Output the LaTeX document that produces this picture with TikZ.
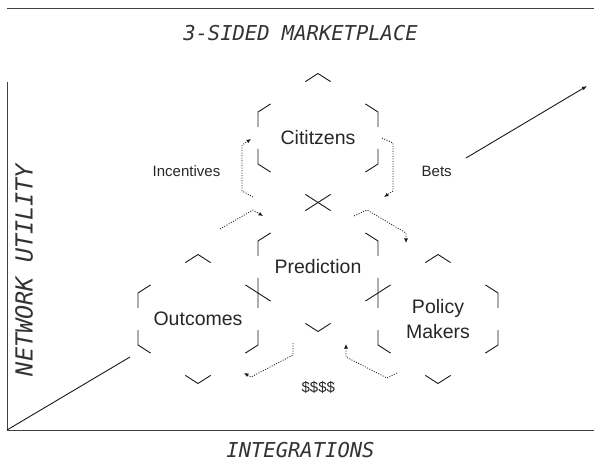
\documentclass[tikz,border=0pt]{standalone}
\usepackage{fontspec}
\setmainfont{Liberation Sans}
\newfontfamily\lcdfont{DejaVu Sans Mono}[ItalicFont={DejaVu Sans Mono Oblique}]
\usetikzlibrary{arrows.meta, calc}

\begin{document}
\begin{tikzpicture}[
    x=1pt, y=-1pt,
    hexlabel/.style={font=\fontsize{19.5}{24.4}\selectfont, text=black!85, align=center, inner sep=0pt},
    flowlabel/.style={font=\fontsize{15}{18}\selectfont, text=black!85, inner sep=0pt},
    axislabel/.style={font=\lcdfont\itshape\fontsize{20.5}{24}\selectfont, text=black!80, inner sep=0pt},
    hexline/.style={black!90, line width=0.9pt},
    frame/.style={black!75, line width=0.9pt},
    flow/.style={-{Latex[length=4.5pt, width=4pt]}, black!90, line width=0.8pt, dash pattern=on 1pt off 1.5pt}
]
\useasboundingbox (0,0) rectangle (594,462);

% Frame and axes
\coordinate (o) at (7,430);
\coordinate (ytop) at (7,82);
\coordinate (xend) at (594,430);
\draw[frame] (7,8) -- (594,8);
\draw[frame] (ytop) -- (o) -- (xend);

\node[axislabel] (title) at (300.5,33) {3-SIDED MARKETPLACE};
\node[axislabel] (xlab) at (300.5,450) {INTEGRATIONS};
\node[axislabel, rotate=90, font=\lcdfont\itshape\fontsize{23.5}{28}\selectfont] (ylab) at (24,270) {NETWORK UTILITY};

% Hexagon labels
\node[hexlabel] (pred) at (318,267) {Prediction};
\node[hexlabel] (cit) at ($(pred)+(0,-129)$) {Cititzens};
\node[hexlabel] (out) at ($(pred)+(-120,52)$) {Outcomes};
\node[hexlabel] (pol) at ($(pred)+(120,52)$) {Policy\\Makers};

% Hexagon corners
\foreach \hx in {cit,pred,out,pol}{
    \coordinate (\hx-1) at ($(\hx.center)+(0,-64.5)$);
    \coordinate (\hx-2) at ($(\hx.center)+(60,-26)$);
    \coordinate (\hx-3) at ($(\hx.center)+(60,26)$);
    \coordinate (\hx-4) at ($(\hx.center)+(0,64.5)$);
    \coordinate (\hx-5) at ($(\hx.center)+(-60,26)$);
    \coordinate (\hx-6) at ($(\hx.center)+(-60,-26)$);
}

% Broken outlines: short strokes at each corner
\foreach \hx in {cit,pred,out,pol}
    \foreach \a/\b/\c in {6/1/2, 1/2/3, 2/3/4, 3/4/5, 4/5/6, 5/6/1}
        \draw[hexline] ($(\hx-\b)!15pt!(\hx-\a)$) -- (\hx-\b) -- ($(\hx-\b)!15pt!(\hx-\c)$);

% Growth diagonal
\coordinate (g1) at (130,357);
\coordinate (g2) at (466,158);
\coordinate (g3) at (587,86);
\draw[frame, black!90] (o) -- (g1);
\draw[frame, black!90, -{Latex[length=5pt, width=4pt]}] (g2) -- (g3);

% Flow labels
\node[flowlabel] (inc) at (186.5,171) {Incentives};
\node[flowlabel] (bets) at (436.7,171) {Bets};
\node[flowlabel] (money) at (318.3,387) {\$\$\$\$};

% Flows
\coordinate (inc-s) at (253,197);
\coordinate (inc-e) at (251,139);
\draw[flow] (inc-s) -- (242,191) -- (242,145) -- (inc-e);

\coordinate (bets-s) at (382,138);
\coordinate (bets-e) at (384,197);
\draw[flow] (bets-s) -- (393,143) -- (393,191) -- (bets-e);

\coordinate (inc2-s) at (220,229);
\coordinate (inc2-e) at (263,216);
\draw[flow] (inc2-s) -- (253,210) -- (inc2-e);

\coordinate (bets2-s) at (354,216);
\coordinate (bets2-e) at (406,243);
\draw[flow] (bets2-s) -- (367,210) -- (406,233) -- (bets2-e);

\coordinate (pay-s) at (293,343);
\coordinate (pay-e) at (244,373);
\draw[flow] (pay-s) -- (293,355) -- (251,377) -- (pay-e);

\coordinate (pay2-s) at (397,373);
\coordinate (pay2-e) at (346,344);
\draw[flow] (pay2-s) -- (387,378) -- (346,357) -- (pay2-e);

\end{tikzpicture}
\end{document}
